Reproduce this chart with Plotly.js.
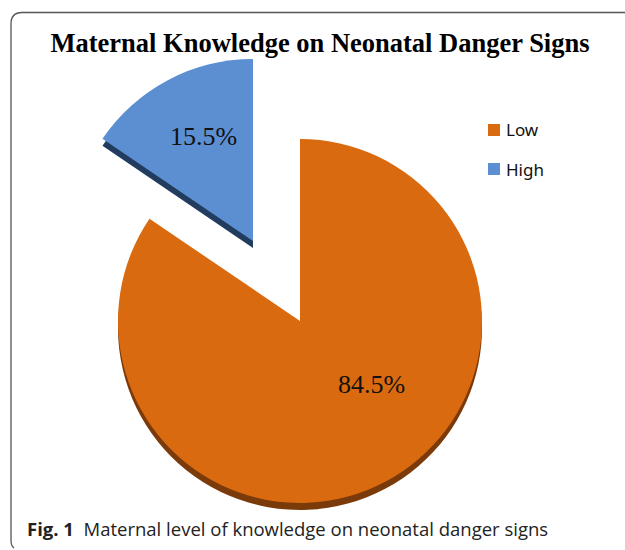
<!DOCTYPE html>
<html>
<head>
<meta charset="utf-8">
<script src="https://cdn.plot.ly/plotly-3.0.1.min.js"></script>
<style>html,body{margin:0;padding:0;background:#fff}#chart{width:625px;height:550px}</style>
</head>
<body>
<div id="chart"></div>
<script>
// ---- data ----
const labels = ["Low", "High"];
const values = [84.5, 15.5];
const chartTitle = "Maternal Knowledge on Neonatal Danger Signs";
const captionBold = "Fig. 1";
const captionText = "Maternal level of knowledge on neonatal danger signs";

// ---- styling ----
const W = 625, H = 550;
const faceColors = ["#DA6A10", "#5B8FD2"];
const depthColors = ["#7A3A0A", "#213C5E"];
const R = 182;              // pie radius in px
const lowCenter = [300, 321];
const highCenter = [253, 241];
const depth = 7;

function px(x) { return x / W; }
function py(y) { return 1 - y / H; }
function domainAt(cx, cy) {
  return { x: [px(cx - R), px(cx + R)], y: [py(cy + R), py(cy - R)] };
}
function pieTrace(center, shiftY, colors) {
  return {
    type: "pie", labels: labels, values: values, sort: false,
    direction: "clockwise", rotation: 0, textinfo: "none",
    hoverinfo: "label+percent", showlegend: false,
    marker: { colors: colors, line: { width: 0 } },
    domain: domainAt(center[0], center[1] + shiftY)
  };
}
const clear = "rgba(0,0,0,0)";
const traces = [
  pieTrace(lowCenter, depth, [depthColors[0], clear]),
  pieTrace(highCenter, depth, [clear, depthColors[1]]),
  pieTrace(lowCenter, 0, [faceColors[0], clear]),
  pieTrace(highCenter, 0, [clear, faceColors[1]])
];

const labelPos = [[372, 384], [203, 137]];
const annotations = values.map((v, i) => ({
  xref: "paper", yref: "paper", x: px(labelPos[i][0]), y: py(labelPos[i][1]),
  text: v.toFixed(1) + "%", showarrow: false, xanchor: "center", yanchor: "middle",
  font: { family: "Liberation Serif, serif", size: 26, color: "#111" }
}));

// legend (manual)
const legendX = 488, legendY = [130, 169], sq = 12;
const shapes = [];
labels.forEach((lab, i) => {
  shapes.push({ type: "rect", xref: "paper", yref: "paper",
    x0: px(legendX), x1: px(legendX + sq), y0: py(legendY[i] + sq / 2), y1: py(legendY[i] - sq / 2),
    fillcolor: faceColors[i], line: { width: 0 } });
  annotations.push({ xref: "paper", yref: "paper", x: px(legendX + sq + 4), y: py(legendY[i]),
    text: lab, showarrow: false, xanchor: "left", yanchor: "middle",
    font: { family: "Noto Sans, sans-serif", size: 17, color: "#111" } });
});

// caption
annotations.push({ xref: "paper", yref: "paper", x: px(25), y: py(528),
  text: "<b>" + captionBold + "</b>  " + captionText, showarrow: false,
  xanchor: "left", yanchor: "middle",
  font: { family: "Open Sans, sans-serif", size: 18.5, color: "#222" } });

// frame
shapes.push({ type: "path", xref: "paper", yref: "paper",
  path: "M " + px(640) + "," + py(12.5) + " L " + px(22) + "," + py(12.5) +
        " Q " + px(11) + "," + py(12.5) + " " + px(11) + "," + py(24) +
        " L " + px(11) + "," + py(540) + " Q " + px(11) + "," + py(546) + " " + px(14) + "," + py(548),
  line: { color: "#555", width: 1.3 } });

const layout = {
  width: W, height: H,
  margin: { l: 0, r: 0, t: 0, b: 0 },
  paper_bgcolor: "#fff",
  showlegend: false,
  title: { text: "<b>" + chartTitle + "</b>", x: px(320), xanchor: "center",
    y: py(43), yanchor: "middle",
    font: { family: "Liberation Serif, serif", size: 26.5, color: "#000" } },
  annotations: annotations,
  shapes: shapes
};

Plotly.newPlot("chart", traces, layout, { displayModeBar: false, staticPlot: true });
</script>
</body>
</html>
